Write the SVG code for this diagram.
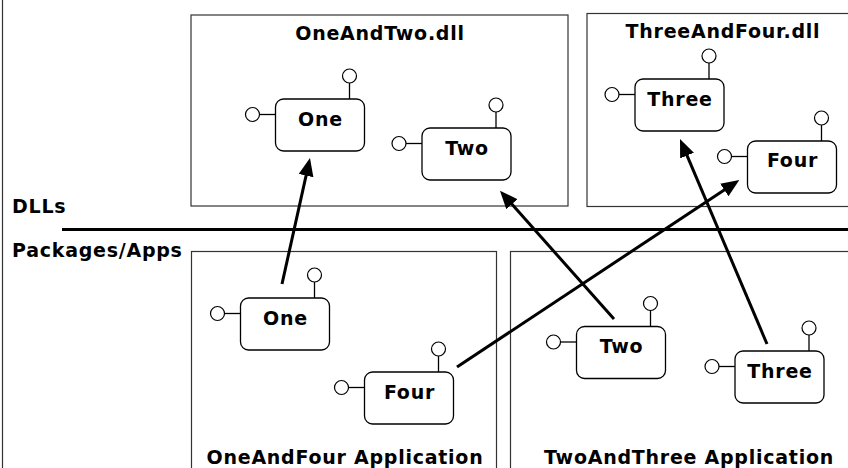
<svg xmlns="http://www.w3.org/2000/svg" xmlns:xlink="http://www.w3.org/1999/xlink" width="848" height="468" viewBox="0 0 848 468">
<style>
text{font-family:"DejaVu Sans","Verdana",sans-serif;font-weight:bold;font-size:19px;letter-spacing:0.75px;fill:#000}
.mid{text-anchor:middle}
.box{fill:none;stroke:#333;stroke-width:1.2}
.comp rect{fill:#fff;stroke:#000;stroke-width:1.3}
.comp circle{fill:#fff;stroke:#000;stroke-width:1.2}
.comp line{stroke:#000;stroke-width:1.3}
.arrow{stroke:#000;stroke-width:3;fill:none;marker-end:url(#ah)}
</style>
<defs>
<marker id="ah" markerUnits="userSpaceOnUse" markerWidth="20" markerHeight="16" refX="8" refY="7.5" orient="auto">
<path d="M0,0 L18,7.5 L0,15 z" fill="#000"/>
</marker>
<g id="comp" class="comp">
<line x1="-16" y1="15.5" x2="0" y2="15.5"/>
<circle cx="-23" cy="15.5" r="7"/>
<line x1="74" y1="-16" x2="74" y2="0"/>
<circle cx="74" cy="-23" r="7"/>
<rect x="0" y="0" width="89" height="52" rx="8"/>
</g>
</defs>
<rect width="848" height="468" fill="#fff"/>
<line x1="2.5" y1="0" x2="2.5" y2="468" stroke="#333" stroke-width="1.2"/>
<g id="separator">
<line x1="62" y1="229.5" x2="848" y2="229.5" stroke="#000" stroke-width="3"/>
<text x="12" y="213">DLLs</text>
<text x="12" y="257">Packages/Apps</text>
</g>
<g id="OneAndTwoDll">
<rect class="box" x="191" y="15" width="377" height="191"/>
<text class="mid" x="380" y="40">OneAndTwo.dll</text>
</g>
<g id="ThreeAndFourDll">
<rect class="box" x="587" y="13.5" width="270" height="193"/>
<text class="mid" x="723" y="38">ThreeAndFour.dll</text>
</g>
<g id="OneAndFourApp">
<rect class="box" x="191.5" y="251.5" width="305" height="230"/>
<text class="mid" x="345" y="464">OneAndFour Application</text>
</g>
<g id="TwoAndThreeApp">
<rect class="box" x="510.5" y="251.5" width="350" height="230"/>
<text class="mid" x="689" y="464">TwoAndThree Application</text>
</g>
<g id="dllOne"><use xlink:href="#comp" x="275.5" y="99"/><text class="mid" x="320.5" y="125.5">One</text></g>
<g id="dllTwo"><use xlink:href="#comp" x="422" y="128"/><text class="mid" x="467" y="154.5">Two</text></g>
<g id="dllThree"><use xlink:href="#comp" x="635" y="79"/><text class="mid" x="680" y="105.5">Three</text></g>
<g id="dllFour"><use xlink:href="#comp" x="747.5" y="141"/><text class="mid" x="792.5" y="167">Four</text></g>
<g id="appOne"><use xlink:href="#comp" x="240.5" y="298"/><text class="mid" x="285.5" y="324.5">One</text></g>
<g id="appFour"><use xlink:href="#comp" x="364.5" y="372"/><text class="mid" x="409.5" y="398.5">Four</text></g>
<g id="appTwo"><use xlink:href="#comp" x="576.5" y="326.5"/><text class="mid" x="621.5" y="353">Two</text></g>
<g id="appThree"><use xlink:href="#comp" x="735" y="351"/><text class="mid" x="780" y="377.5">Three</text></g>
<g id="connectors">
<line class="arrow" x1="282" y1="284" x2="307.8" y2="167.8"/>
<line class="arrow" x1="614" y1="319" x2="506.6" y2="198.2"/>
<line class="arrow" x1="767" y1="344" x2="683.9" y2="148.2"/>
<line class="arrow" x1="457" y1="367" x2="731" y2="185.5"/>
</g>
</svg>
